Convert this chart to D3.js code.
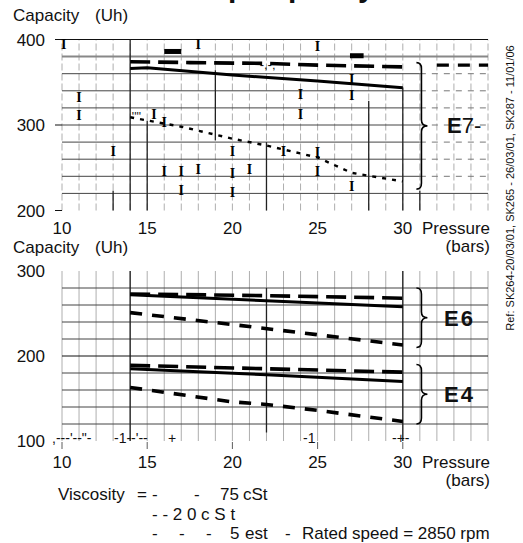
<!DOCTYPE html>
<html>
<head>
<meta charset="utf-8">
<script src="https://cdnjs.cloudflare.com/ajax/libs/d3/7.8.5/d3.min.js"></script>
<style>
body{margin:0;background:#fff;}
svg text{font-family:"Liberation Sans",Arial,Helvetica,sans-serif;fill:#111;}
</style>
</head>
<body>
<script>
// pressure axis (bars)
var xTicks=[10,15,20,25,30];
var topYTicks=[200,300,400];
var botYTicks=[100,200,300];

// E7 (top chart) - capacity l/h vs pressure
var e7Long=[[14,374],[17.5,373],[22,372],[25,370],[30,368]];
var e7LongExt=[[32,370],[35,370]];
var e7Solid=[[14,366],[15,367],[20,358.5],[25,351.5],[30,343.5]];
var e7Short=[[14,309],[17,298],[20,284],[22,276],[25,262],[27,244],[30,234]];

// E6 / E4 (bottom chart)
var e6Long=[[14,273],[22,271],[30,268]];
var e6Solid=[[14,272],[22,265],[30,258]];
var e6Short=[[14,251],[20,237],[25,225],[30,213]];
var e4Long=[[14,189],[22,185],[30,181]];
var e4Solid=[[14,185],[22,178],[30,170]];
var e4Short=[[14,163],[20,146],[22,143],[25,136],[30,123]];

// darker grid segments in the scan [x, from, to]
var topHeavy=[[14,200,400],[15,200,305],[19,282,364],[22,200,280],[28,200,328],[30,200,344],[31,200,223],[13,200,223]];
var botHeavy=[[14,100,300],[22,110,280],[30,100,300]];

// scan marks on the top grid [pressure, capacity]
var topMarks=[[11,333],[11,312],[15.4,313],[24,336],[24,313],[13,269],[20,269],[23,269],[16,246],[17,246],[18,248],[20,244],[21,248],[25,268],[25,246],[18,395],[25,392],[27,354],[27,335],[27,228],[10.1,395],[16,303],[20,222],[17,224]];
var topBlobs=[[16,17,386],[26.9,27.7,381]];

var px='px';
var W=523,H=543;
var svg=d3.select('body').append('svg').attr('width',W).attr('height',H);

var x=d3.scaleLinear().domain([10,35]).range([62,488]);
var yTop=d3.scaleLinear().domain([200,400]).range([210.5,39.5]);
var yBot=d3.scaleLinear().domain([100,300]).range([441,271]);

// title (cut off by the scan)
svg.append('text').attr('x',163).attr('y',-3)
    .style('font-size',30+px).style('font-weight','bold').text('Pump capacity');

function grid(g,y,y0,y1,rows,heavy,dashedRight){
    var cols=d3.range(10,36);
    g.selectAll('line.v').data(cols).enter().append('line')
        .attr('x1',function(d){return x(d);}).attr('x2',function(d){return x(d);})
        .attr('y1',y(y0)).attr('y2',y(y1))
        .attr('stroke','#999').attr('stroke-width',0.8)
        .attr('stroke-dasharray',dashedRight?'7,3':null);
    rows.forEach(function(r){
        var col=r.v==400||r.v==200?'#111':'#444';
        if(r.grey)col='#888';
        var xe=(dashedRight&&r.dash)?31:35;
        g.append('line').attr('x1',x(10)).attr('x2',x(xe))
            .attr('y1',y(r.v)).attr('y2',y(r.v))
            .attr('stroke',col).attr('stroke-width',r.grey?2:1);
        if(xe<35){
            g.append('line').attr('x1',x(31)).attr('x2',x(35))
                .attr('y1',y(r.v)).attr('y2',y(r.v))
                .attr('stroke','#777').attr('stroke-width',1).attr('stroke-dasharray','6,6');
        }
    });
    g.selectAll('line.h').data(heavy).enter().append('line')
        .attr('x1',function(d){return x(d[0]);}).attr('x2',function(d){return x(d[0]);})
        .attr('y1',function(d){return y(d[1]);}).attr('y2',function(d){return y(d[2]);})
        .attr('stroke','#222').attr('stroke-width',1.3);
}

var gTop=svg.append('g');
var topRows=d3.range(220,401,20).map(function(v){
    return {v:v,grey:v==380,dash:[360,340,320,300,280,260,240].indexOf(v)>=0};
});
grid(gTop,yTop,200,400,topRows,topHeavy,true);
// short tick lines to the left of the value labels
gTop.selectAll('line.t').data(topYTicks).enter().append('line')
    .attr('x1',55).attr('x2',x(10)).attr('y1',function(d){return yTop(d);}).attr('y2',function(d){return yTop(d);})
    .attr('stroke','#111');
gTop.selectAll('text.m').data(topMarks).enter().append('text')
    .attr('x',function(d){return x(d[0]);}).attr('y',function(d){return yTop(d[1]);})
    .attr('dy','0.35em').attr('text-anchor','middle')
    .style('font-family','"Liberation Serif",serif').style('font-weight','bold')
    .style('font-size',14+px).style('fill','#000').text('I');
gTop.selectAll('rect.b').data(topBlobs).enter().append('rect')
    .attr('x',function(d){return x(d[0]);}).attr('width',function(d){return x(d[1])-x(d[0]);})
    .attr('y',function(d){return yTop(d[2])-2.5;}).attr('height',5).attr('fill','#000');
gTop.append('text').attr('x',x(14.1)).attr('y',yTop(309)+4).style('font-size',12+px).text("''''");
gTop.append('text').attr('x',x(21.6)).attr('y',yTop(370)+4).style('font-size',13+px).text('-,-;');

var gBot=svg.append('g');
var botRows=d3.range(120,281,20).map(function(v){return {v:v};});
grid(gBot,yBot,100,300,botRows,botHeavy,false);
gBot.selectAll('line.t').data(xTicks).enter().append('line')
    .attr('x1',function(d){return x(d);}).attr('x2',function(d){return x(d);})
    .attr('y1',yBot(100)+1).attr('y2',yBot(100)+8).attr('stroke','#333').attr('stroke-width',0.8);

// curves
var styles={
    long:{w:3.6,dash:'20,8'},
    solid:{w:3,dash:null},
    short:{w:3.6,dash:'12,10'}
};
function curve(g,y,data,st){
    var line=d3.line().x(function(d){return x(d[0]);}).y(function(d){return y(d[1]);});
    g.append('path').datum(data).attr('d',line)
        .attr('fill','none').attr('stroke','#000')
        .attr('stroke-width',st.w).attr('stroke-dasharray',st.dash);
}
curve(gTop,yTop,e7Long,styles.long);
curve(gTop,yTop,e7LongExt,{w:3.2,dash:'12,9'});
curve(gTop,yTop,e7Solid,styles.solid);
curve(gTop,yTop,e7Short,{w:2.4,dash:'4,6'});
curve(gBot,yBot,e6Long,styles.long);
curve(gBot,yBot,e6Solid,styles.solid);
curve(gBot,yBot,e6Short,styles.short);
curve(gBot,yBot,e4Long,styles.long);
curve(gBot,yBot,e4Solid,styles.solid);
curve(gBot,yBot,e4Short,styles.short);

// braces
var braces=[
    {g:gTop,y:yTop,top:373,bottom:225},
    {g:gBot,y:yBot,top:280,bottom:210},
    {g:gBot,y:yBot,top:190,bottom:120}
];
braces.forEach(function(b){
    var x0=x(30.8),x1=x0+5,x2=x0+11;
    var yt=b.y(b.top),yb=b.y(b.bottom),ym=(yt+yb)/2,r=6;
    var p='M'+x0+','+yt+' Q'+x1+','+yt+' '+x1+','+(yt+r)+' L'+x1+','+(ym-r)
        +' Q'+x1+','+ym+' '+x2+','+ym+' Q'+x1+','+ym+' '+x1+','+(ym+r)
        +' L'+x1+','+(yb-r)+' Q'+x1+','+yb+' '+x0+','+yb;
    b.g.append('path').attr('d',p).attr('fill','none').attr('stroke','#000').attr('stroke-width',1.6);
});

var e7=svg.append('text').attr('x',447).attr('y',yTop(300)+8).style('font-size',22+px);
e7.append('tspan').style('font-weight','bold').text('E');
e7.append('tspan').text('7-');
svg.append('text').attr('x',444).attr('y',yBot(245)+8).style('font-size',22+px)
    .style('font-weight','bold').style('letter-spacing','2px').text('E6');
svg.append('text').attr('x',444).attr('y',yBot(155)+8).style('font-size',22+px)
    .style('font-weight','bold').style('letter-spacing','2px').text('E4');

// axis texts
function yLabels(y,ticks){
    svg.selectAll(null).data(ticks).enter().append('text')
        .attr('x',45).attr('y',function(d){return y(d);}).attr('dy','0.36em')
        .attr('text-anchor','end').style('font-size',17+px).text(function(d){return d;});
}
yLabels(yTop,topYTicks);
yLabels(yBot,botYTicks);
function xLabels(base){
    svg.selectAll(null).data(xTicks).enter().append('text')
        .attr('x',function(d){return x(d);}).attr('y',base)
        .attr('text-anchor','middle').style('font-size',17+px).text(function(d){return d;});
    svg.append('text').attr('x',490).attr('y',base).attr('text-anchor','end').style('font-size',17+px).text('Pressure');
    svg.append('text').attr('x',490).attr('y',base+18).attr('text-anchor','end').style('font-size',17+px).text('(bars)');
}
xLabels(234);
xLabels(468);
svg.append('text').attr('x',13).attr('y',21).style('font-size',17+px).text('Capacity');
svg.append('text').attr('x',95).attr('y',21).style('font-size',17+px).text('(Uh)');
svg.append('text').attr('x',13).attr('y',253).style('font-size',17+px).text('Capacity');
svg.append('text').attr('x',95).attr('y',253).style('font-size',17+px).text('(Uh)');

// scan debris on the 100 line
var debris=[[',---\'--"-',52],['-1--\'--',114],['+',168],['-1',303],['-+-',392]];
svg.selectAll(null).data(debris).enter().append('text')
    .attr('x',function(d){return d[1];}).attr('y',yBot(100)+2)
    .style('font-size',14+px).text(function(d){return d[0];});

// legend
var legend=[
    ['Viscosity',58,500],['=',137,500],['-',152,500],['-',194,500],['75',220,500],['cSt',243,500],
    ['- - 2 0 c S t',152,520],
    ['-',152,539],['-',179,539],['-',206,539],['5',230,539],['est',245,539],['-',285,539],
    ['Rated speed = 2850 rpm',302,539]
];
svg.selectAll(null).data(legend).enter().append('text')
    .attr('x',function(d){return d[1];}).attr('y',function(d){return d[2];})
    .style('font-size',17+px).text(function(d){return d[0];});

svg.append('text').attr('transform','translate(514,188) rotate(-90)')
    .attr('text-anchor','middle').style('font-size',11+px)
    .text('Ref: SK264-20/03/01, SK265 - 26/03/01, SK287 - 11/01/06');
</script>
</body>
</html>
